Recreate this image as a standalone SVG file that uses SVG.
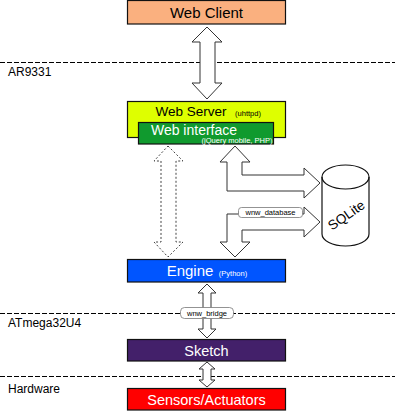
<svg xmlns="http://www.w3.org/2000/svg" width="395" height="412" viewBox="0 0 395 412">
<style>
.box{stroke:#111;stroke-width:1.2}
.t{font-family:"Liberation Sans",Arial,sans-serif;text-anchor:middle}
.lbl{font-family:"Liberation Sans",Arial,sans-serif;font-size:12px;fill:#000}
.small{font-size:7.5px}
.sep{stroke:#000;stroke-width:1;stroke-dasharray:5,2;fill:none}
.arr{fill:#fff;stroke:#333;stroke-width:1}
.darr{fill:#fff;stroke:#444;stroke-width:1;stroke-dasharray:2,2}
.tag{fill:#fff;stroke:#777;stroke-width:0.8}
</style>
<rect width="395" height="412" fill="#fff"/>
<g id="separators">
<line class="sep" x1="0" y1="62.5" x2="395" y2="62.5"/>
<line class="sep" x1="0" y1="313.5" x2="395" y2="313.5"/>
<line class="sep" x1="0" y1="376.5" x2="395" y2="376.5"/>
<text class="lbl" x="8" y="76">AR9331</text>
<text class="lbl" x="8" y="327">ATmega32U4</text>
<text class="lbl" x="8" y="393">Hardware</text>
</g>
<g id="connectors">
<polygon class="arr" points="207,27 222,42 215,42 215,83 222,83 207,99 192,83 200,83 200,42 192,42"/>
<polygon class="darr" points="168,146 183,161 176,161 176,242 183,242 168,257 154,242 161,242 161,161 154,161"/>
<polygon class="arr" points="235,146 250,162 242,162 242,175 304,175 304,168 320,183 304,198 304,191 227,191 227,162 220,162"/>
<polygon class="arr" points="320,222 304,237 304,230 242,230 242,242 250,242 235,257 220,242 227,242 227,214 304,214 304,207"/>
<rect class="tag" x="238.5" y="207.5" width="64" height="10" rx="3"/>
<text class="t small" x="270.5" y="215.3">wnw_database</text>
<polygon class="arr" points="207,284 216,293 211,293 211,329 216,329 207,338 198,329 203,329 203,293 198,293"/>
<rect class="tag" x="180.5" y="307.5" width="53" height="11" rx="4"/>
<text class="t small" x="207" y="315.6">wnw_bridge</text>
<polygon class="arr" points="207,362 215,369 211,369 211,380 215,380 207,387 199,380 203,380 203,369 199,369"/>
</g>
<g id="web-client">
<rect class="box" x="127.5" y="0.5" width="158" height="23.5" fill="#FAB07F"/>
<text class="t" x="206.5" y="18" font-size="15">Web Client</text>
</g>
<g id="web-server">
<rect class="box" x="127.5" y="101.5" width="158" height="36" fill="#DEFF00"/>
<text class="t" x="191" y="116" font-size="13.5">Web Server</text>
<text class="t small" x="248" y="116">(uhttpd)</text>
</g>
<g id="web-interface">
<rect class="box" x="138.5" y="122.5" width="135" height="21.5" fill="#109A2E"/>
<text class="t" x="194" y="134.5" font-size="14" fill="#fff">Web interface</text>
<text class="t small" x="237" y="143" fill="#fff">(jQuery mobile, PHP)</text>
</g>
<g id="sqlite">
<path d="M322,177 L322,234 A23.5,12 0 0 0 369,234 L369,177 A23.5,12 0 0 0 322,177 Z" fill="#fff" stroke="#111" stroke-width="1.2"/>
<path d="M322,177 A23.5,12 0 0 0 369,177" fill="none" stroke="#111" stroke-width="1.2"/>
<text class="t" x="349" y="219" font-size="13.5" transform="rotate(-35 349 219)">SQLite</text>
</g>
<g id="engine">
<rect class="box" x="127.5" y="259.5" width="158" height="22.5" fill="#0055FF"/>
<text class="t" x="190" y="276" font-size="15" fill="#fff">Engine</text>
<text class="t small" x="233" y="276" fill="#fff">(Python)</text>
</g>
<g id="sketch">
<rect class="box" x="127.5" y="339.5" width="158" height="21.5" fill="#43206A"/>
<text class="t" x="206.5" y="356" font-size="14.5" fill="#fff">Sketch</text>
</g>
<g id="sensors-actuators">
<rect class="box" x="127.5" y="388.5" width="158" height="21.5" fill="#FF0000"/>
<text class="t" x="206.5" y="405" font-size="14.5" fill="#fff">Sensors/Actuators</text>
</g>
</svg>
